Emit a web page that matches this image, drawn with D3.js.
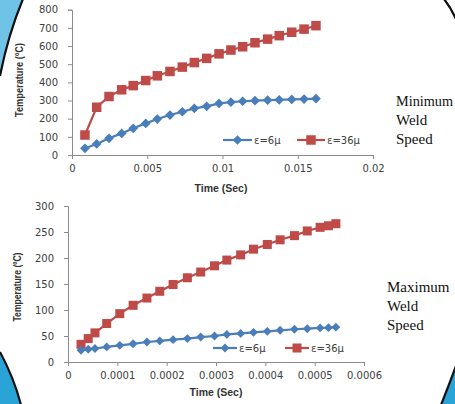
<!DOCTYPE html>
<html><head><meta charset="utf-8">
<script src="https://cdn.jsdelivr.net/npm/d3@7/dist/d3.min.js"></script>
<style>
html,body{margin:0;padding:0;background:#fff;overflow:hidden}
svg{display:block}
</style></head>
<body>
<svg id="c" width="455" height="404"></svg>
<script>
// ---------- DATA ----------
// Top chart: Minimum Weld Speed
const timeMin = [0.00086,0.00164,0.00246,0.0033,0.00407,0.0049,0.00567,0.00651,0.00733,0.00813,0.00895,0.00977,0.01056,0.01134,0.01216,0.013,0.01377,0.0146,0.01542,0.01621];
const minE6  = [37,61,92,119,147,174,198,220,238,257,268,284,291,296,299,302,304,306,308,310];
const minE36 = [110,263,322,359,382,410,436,460,484,509,532,557,578,596,618,638,657,676,693,712];
const minXTicks = [0,0.005,0.01,0.015,0.02];
const minYTicks = [0,100,200,300,400,500,600,700,800];
// Bottom chart: Maximum Weld Speed
const timeMax = [0.0000264,0.000041,0.0000547,0.0000784,0.000105,0.000132,0.00016,0.000186,0.000213,0.000242,0.000269,0.000297,0.000322,0.00035,0.000376,0.000404,0.00043,0.000459,0.000485,0.000511,0.000528,0.000543];
const maxE6  = [22.5,24.5,26,29,32,35,38.5,40.5,43,45,48,50,53,55,57,59,61,63,64,65.5,66,67];
const maxE36 = [34,45,56,74,93,109,123,136,149,162,173,185,196,206,217,226,235,243,252,259,262,266];
const maxXTicks = [0,0.0001,0.0002,0.0003,0.0004,0.0005,0.0006];
const maxYTicks = [0,50,100,150,200,250,300];
const seriesNames = ["\u03b5=6\u03bc","\u03b5=36\u03bc"];
const captionMin = ["Minimum","Weld","Speed"];
const captionMax = ["Maximum","Weld","Speed"];
const yTitle = "Temperature (\u00baC)";
const xTitle = "Time (Sec)";

const BLUE = "#4a7ebb", RED = "#be4b48", AXIS = "#8c8c8c", TXT = "#404040";
const svg = d3.select("#c");

// ---------- decorations (slide background) ----------
const deco = svg.append("g");
deco.append("path").attr("d","M0,0 L23,0 Q8,35 0,76 Z").attr("fill","#6ec3e6").attr("stroke","none");
deco.append("path").attr("d","M23,-1 Q8,35 0,76").attr("fill","none").attr("stroke","#111").attr("stroke-width",2.2);
deco.append("path").attr("d","M0,352 Q14,378 21,405 L0,405 Z").attr("fill","#2aa4d6");
deco.append("path").attr("d","M0,352 Q14,378 21,405").attr("fill","none").attr("stroke","#111").attr("stroke-width",2.2);
deco.append("path").attr("d","M441,405 Q449,385 456,366 L456,405 Z").attr("fill","#2aa4d6");
deco.append("path").attr("d","M441,405 Q449,385 456,366").attr("fill","none").attr("stroke","#111").attr("stroke-width",2.2);
deco.append("path").attr("d","M444,-1 Q451,8 456,19").attr("fill","none").attr("stroke","#111").attr("stroke-width",2.2);

function drawChart(cfg){
  const g = svg.append("g");
  const x = d3.scaleLinear().domain(cfg.xDomain).range([cfg.left, cfg.right]);
  const y = d3.scaleLinear().domain(cfg.yDomain).range([cfg.bottom, cfg.top]);

  // axes
  const xa = g.append("g").attr("transform",`translate(0,${cfg.bottom})`)
    .call(d3.axisBottom(x).tickValues(cfg.xTicks).tickSize(4).tickPadding(6).tickFormat(d=>String(+d.toFixed(6))));
  const ya = g.append("g").attr("transform",`translate(${cfg.left},0)`)
    .call(d3.axisLeft(y).tickValues(cfg.yTicks).tickSize(4).tickPadding(10).tickFormat(d3.format("d")));
  [xa,ya].forEach(a=>{
    a.select(".domain").attr("stroke",AXIS).attr("stroke-width",1);
    a.selectAll(".tick line").attr("stroke",AXIS);
    a.selectAll("text").attr("fill",TXT).style("font-family","DejaVu Sans, sans-serif").style("font-size","10px");
  });

  // titles
  g.append("text").attr("x",cfg.xtX).attr("y",cfg.xtY).attr("text-anchor","middle")
    .style("font-family","Liberation Sans, Arial, sans-serif").style("font-weight","bold").style("font-size","10.5px")
    .attr("fill","#333").text(xTitle);
  g.append("text").attr("transform",`translate(${cfg.ytX},${cfg.ytY}) rotate(-90)`).attr("text-anchor","middle")
    .style("font-family","Liberation Sans Narrow, Liberation Sans, Arial, sans-serif").style("font-weight","bold").style("font-size","11px")
    .attr("textLength",cfg.ytLen).attr("lengthAdjust","spacingAndGlyphs")
    .attr("fill","#333").text(yTitle);

  const line = d3.line().x(d=>x(d[0])).y(d=>y(d[1]));
  const s1 = cfg.t.map((t,i)=>[t,cfg.v1[i]]);
  const s2 = cfg.t.map((t,i)=>[t,cfg.v2[i]]);

  g.append("path").datum(s2).attr("d",line).attr("fill","none").attr("stroke",RED).attr("stroke-width",2.2);
  g.selectAll(".sq").data(s2).enter().append("rect")
    .attr("x",d=>x(d[0])-cfg.sq/2).attr("y",d=>y(d[1])-cfg.sq/2).attr("width",cfg.sq).attr("height",cfg.sq).attr("fill",RED);
  g.append("path").datum(s1).attr("d",line).attr("fill","none").attr("stroke",BLUE).attr("stroke-width",2.2);
  const dm = d3.symbol().type(d3.symbolDiamond2).size(cfg.dm);
  g.selectAll(".dm").data(s1).enter().append("path")
    .attr("transform",d=>`translate(${x(d[0])},${y(d[1])})`).attr("d",dm).attr("fill",BLUE);

  // legend
  const L = cfg.legend;
  const lg = g.append("g");
  lg.append("line").attr("x1",L.b0).attr("x2",L.b1).attr("y1",L.y).attr("y2",L.y).attr("stroke",BLUE).attr("stroke-width",2.2);
  lg.append("path").attr("transform",`translate(${(L.b0+L.b1)/2},${L.y})`).attr("d",dm).attr("fill",BLUE);
  lg.append("text").attr("x",L.b1+2).attr("y",L.y+3.5).text(seriesNames[0]);
  lg.append("line").attr("x1",L.r0).attr("x2",L.r1).attr("y1",L.y).attr("y2",L.y).attr("stroke",RED).attr("stroke-width",2.2);
  lg.append("rect").attr("x",(L.r0+L.r1)/2-cfg.sq/2).attr("y",L.y-cfg.sq/2).attr("width",cfg.sq).attr("height",cfg.sq).attr("fill",RED);
  lg.append("text").attr("x",L.r1+2).attr("y",L.y+3.5).text(seriesNames[1]);
  lg.selectAll("text").attr("fill",TXT).style("font-family","DejaVu Sans, sans-serif").style("font-size","10px");

  // caption
  const cap = g.append("text").attr("x",cfg.capX).attr("y",cfg.capY)
    .style("font-family","Liberation Serif, Times New Roman, serif").style("font-size","15px").attr("fill","#111");
  cfg.caption.forEach((w,i)=>{
    const ts = cap.append("tspan").attr("x",cfg.capX).attr("y",cfg.capY+i*19).text(w);
    if(i===0 && cfg.capFit) ts.attr("textLength",cfg.capFit).attr("lengthAdjust","spacingAndGlyphs");
  });
}

drawChart({
  xDomain:[0,0.02], yDomain:[0,800], left:72, right:373, top:9.7, bottom:155,
  xTicks:minXTicks, yTicks:minYTicks, t:timeMin, v1:minE6, v2:minE36,
  sq:9.5, dm:60,
  xtX:221, xtY:192, ytX:23, ytY:80, ytLen:74,
  legend:{y:140, b0:223, b1:252, r0:297, r1:325},
  caption:captionMin, capX:396, capY:106, capFit:57
});
drawChart({
  xDomain:[0,0.0006], yDomain:[0,300], left:68, right:364, top:206, bottom:362,
  xTicks:maxXTicks, yTicks:maxYTicks, t:timeMax, v1:maxE6, v2:maxE36,
  sq:9, dm:50,
  xtX:216, xtY:396, ytX:21, ytY:287, ytLen:69,
  legend:{y:348, b0:213, b1:237, r0:285, r1:309},
  caption:captionMax, capX:387, capY:292, capFit:0
});
</script>
</body></html>
